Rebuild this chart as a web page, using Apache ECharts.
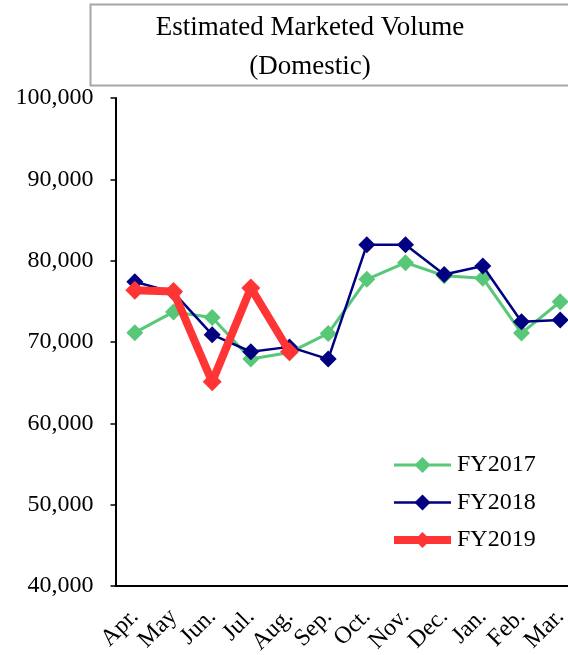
<!DOCTYPE html>
<html>
<head>
<meta charset="utf-8">
<script src="https://cdn.jsdelivr.net/npm/echarts@6/dist/echarts.min.js"></script>
<style>html,body{margin:0;padding:0;background:#fff;overflow:hidden}#c{width:568px;height:655px}</style>
</head>
<body>
<div id="c"></div>
<script>
const months = ['Apr.','May','Jun.','Jul.','Aug.','Sep.','Oct.','Nov.','Dec.','Jan.','Feb.','Mar.'];
const fy2017 = [71150, 73700, 73000, 67900, 68700, 71050, 77700, 79750, 78150, 77850, 71100, 74950];
const fy2018 = [77400, 76100, 70900, 68800, 69400, 67900, 81950, 81950, 78300, 79350, 72500, 72700];
const fy2019 = [76350, 76200, 65100, 76650, 68800, null, null, null, null, null, null, null];
const yTicks = {min: 40000, max: 100000, step: 10000};

const FONT = "'Liberation Serif','Times New Roman',serif";
const chart = echarts.init(document.getElementById('c'), null, {renderer: 'canvas'});
chart.setOption({
  animation: false,
  backgroundColor: '#ffffff',
  title: {
    text: 'Estimated Marketed Volume\n(Domestic)',
    left: 305, top: 3, textAlign: 'center',
    textStyle: {fontFamily: FONT, fontSize: 27, fontWeight: 'normal', color: '#000', lineHeight: 39}
  },
  graphic: [{
    type: 'rect', left: 88, top: 2, silent: true,
    shape: {width: 540, height: 81},
    style: {fill: 'none', stroke: '#a6a6a6', lineWidth: 2}
  }],
  grid: {left: 115.5, top: 98, right: -11.5, height: 488, containLabel: false, outerBoundsMode: 'none'},
  legend: {
    data: [
      {name: 'FY2017', lineStyle: {width: 3}},
      {name: 'FY2018', lineStyle: {width: 2.5}},
      {name: 'FY2019', lineStyle: {width: 8}}
    ],
    orient: 'vertical', left: 385, top: 448,
    itemWidth: 57, itemHeight: 20, itemGap: 13.5,
    textStyle: {fontFamily: FONT, fontSize: 24, color: '#000', padding: [0, 0, 0, 1]}
  },
  xAxis: {
    type: 'category', data: months, boundaryGap: true,
    axisLine: {lineStyle: {color: '#000', width: 2}},
    axisTick: {inside: true, length: 7, lineStyle: {color: '#000', width: 1.5}},
    axisLabel: {rotate: 45, interval: 0, margin: 27, fontFamily: FONT, fontSize: 24, color: '#000'},
    splitLine: {show: false}
  },
  yAxis: {
    type: 'value', min: yTicks.min, max: yTicks.max, interval: yTicks.step,
    axisLine: {show: true, lineStyle: {color: '#000', width: 2}},
    axisTick: {show: true, inside: false, length: 5, lineStyle: {color: '#000', width: 1.5}},
    axisLabel: {margin: 22, fontFamily: FONT, fontSize: 24, color: '#000',
      formatter: v => v.toLocaleString('en-US')},
    splitLine: {show: false}
  },
  series: [
    {name: 'FY2017', type: 'line', data: fy2017, symbol: 'diamond', symbolSize: 17,
     color: '#58c878', lineStyle: {color: '#58c878', width: 3}, itemStyle: {color: '#58c878'}, z: 2},
    {name: 'FY2018', type: 'line', data: fy2018, symbol: 'diamond', symbolSize: 17,
     color: '#000080', lineStyle: {color: '#000080', width: 2.5}, itemStyle: {color: '#000080'}, z: 3},
    {name: 'FY2019', type: 'line', data: fy2019, symbol: 'diamond', symbolSize: 19,
     color: '#ff3535', lineStyle: {color: '#ff3535', width: 8}, itemStyle: {color: '#ff3535'}, z: 4}
  ]
});
</script>
</body>
</html>
